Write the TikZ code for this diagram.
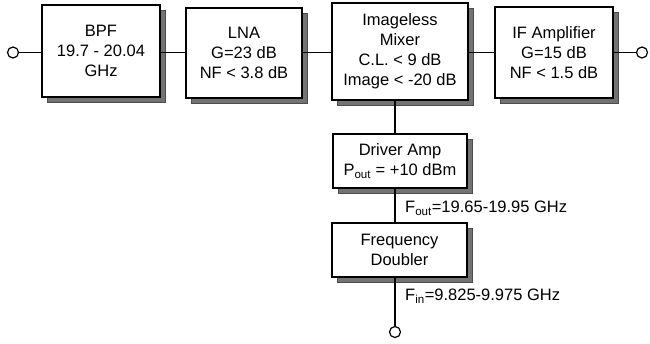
\documentclass[tikz,border=0pt]{standalone}
\usepackage{fontspec}
\setmainfont{Liberation Sans}
\usetikzlibrary{shadows}
\begin{document}
\begin{tikzpicture}[x=1pt,y=-1pt,
  blk/.style={draw=black,line width=1.2pt,fill=white,align=center,inner sep=0pt,
    font=\fontsize{16.5}{20}\selectfont,
    general shadow={shadow xshift=5pt,shadow yshift=-5pt,fill=black!55,draw=black!70,line width=0.6pt}},
  term/.style={circle,draw=black,line width=1.2pt,fill=white,minimum size=11pt,inner sep=0pt},
  wire/.style={line width=1.2pt},
  lbl/.style={font=\fontsize{16.5}{18}\selectfont,anchor=west,inner sep=0pt}]
\useasboundingbox (0,0) rectangle (650,343);
\coordinate (h) at (0,52.5);
\coordinate (v) at (395,0);
\node[term] (in) at (13,52.5) {};
\node[term] (out) at (642,52.5) {};
\node[term] (bot) at (395,332) {};
\node[blk,minimum width=118pt,minimum height=92pt] (bpf) at (101,51) {BPF\\19.7 - 20.04\\GHz};
\node[blk,minimum width=116pt,minimum height=90pt] (lna) at (244,53) {LNA\\G=23 dB\\NF < 3.8 dB};
\node[blk,minimum width=136pt,minimum height=97pt] (mix) at (400,51.5) {Imageless\\Mixer\\C.L. < 9 dB\\Image < -20 dB};
\node[blk,minimum width=118pt,minimum height=91pt] (ifa) at (554,52.5) {IF Amplifier\\G=15 dB\\NF < 1.5 dB};
\node[blk,minimum width=134pt,minimum height=54pt] (drv) at (400,161) {Driver Amp\\P\textsubscript{out} = +10 dBm};
\node[blk,minimum width=135pt,minimum height=54pt] (dbl) at (399.5,250) {Frequency\\Doubler};
\node[lbl] (fout) at (405,208) {F\textsubscript{out}=19.65-19.95 GHz};
\node[lbl] (fin) at (405,296) {F\textsubscript{in}=9.825-9.975 GHz};
\draw[wire] (in.east |- h) -- (bpf.west |- h);
\draw[wire] (bpf.east |- h) -- (lna.west |- h);
\draw[wire] (lna.east |- h) -- (mix.west |- h);
\draw[wire] (mix.east |- h) -- (ifa.west |- h);
\draw[wire] (ifa.east |- h) -- (out.west |- h);
\draw[wire] (mix.south -| v) -- (drv.north -| v);
\draw[wire] (drv.south -| v) -- (dbl.north -| v);
\draw[wire] (dbl.south -| v) -- (bot.north);
\end{tikzpicture}
\end{document}
